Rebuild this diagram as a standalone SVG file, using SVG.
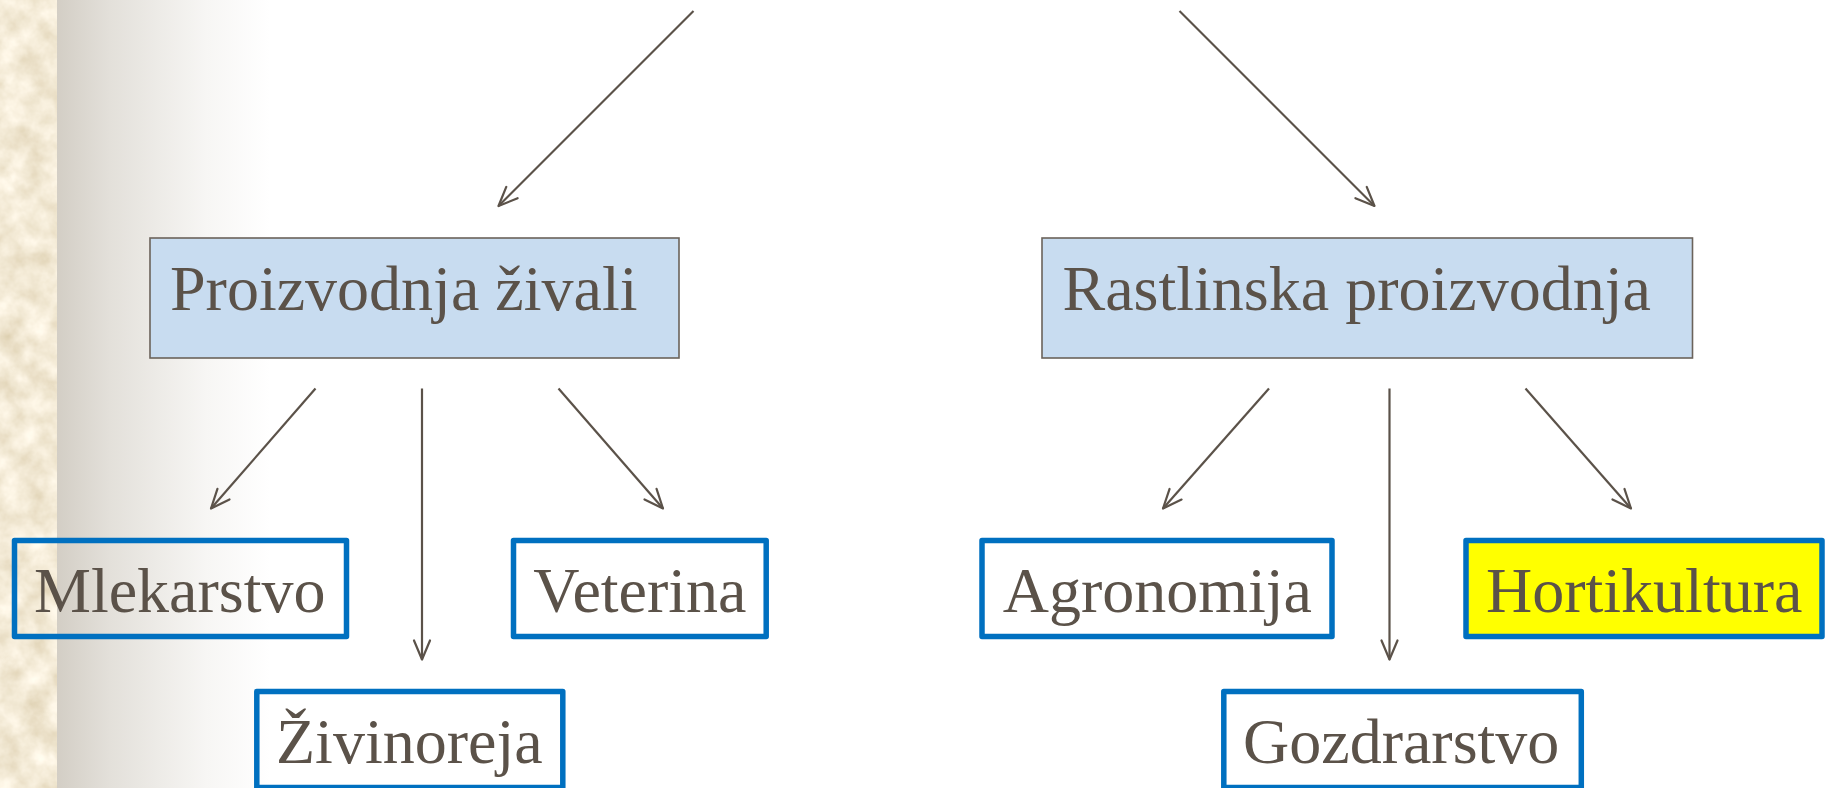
<svg xmlns="http://www.w3.org/2000/svg" width="1825" height="788" viewBox="0 0 1825 788">
  <defs>
    <linearGradient id="shade" x1="0" y1="0" x2="1" y2="0">
      <stop offset="0" stop-color="#d3cec5"/>
      <stop offset="0.25" stop-color="#e3e0da"/>
      <stop offset="0.7" stop-color="#f7f6f4"/>
      <stop offset="1" stop-color="#ffffff"/>
    </linearGradient>
    <filter id="paper" x="0" y="0" width="100%" height="100%">
      <feTurbulence type="fractalNoise" baseFrequency="0.04" numOctaves="4" seed="7" result="n"/>
      <feColorMatrix in="n" type="matrix" values="0.4 0 0 0 0.7  0.45 0 0 0 0.6  0.55 0 0 0 0.4  0 0 0 0 1" result="c"/>
      <feComposite in="c" in2="SourceGraphic" operator="in"/>
    </filter>
    <marker id="arr" markerUnits="userSpaceOnUse" markerWidth="40" markerHeight="40" refX="0" refY="0" orient="auto" viewBox="-20 -20 40 40" overflow="visible">
      <path d="M-19,-8 L0,0 L-19,8" fill="none" stroke="#5b5249" stroke-width="2.2" stroke-linecap="round" stroke-linejoin="round"/>
    </marker>
  </defs>
  <style>
    .lbl { font-family: "Liberation Serif", "Times New Roman", serif; font-size: 64px; fill: #5b5249; }
    .top { fill: #c8dcf0; stroke: #6b635b; stroke-width: 1.6; }
    .leaf { fill: none; stroke: #0070c0; stroke-width: 5.5; stroke-linejoin: round; }
    .hl { fill: #ffff00; }
    .con { stroke: #5b5249; stroke-width: 2.2; fill: none; marker-end: url(#arr); }
  </style>

  <!-- background -->
  <rect x="0" y="0" width="1825" height="788" fill="#ffffff"/>
  <rect x="57" y="0" width="213" height="788" fill="url(#shade)"/>
  <rect x="0" y="0" width="57" height="788" fill="#ecdab2"/>
  <rect x="0" y="0" width="57" height="788" fill="#e6d3a8" filter="url(#paper)"/>

  <!-- connectors -->
  <g id="connectors">
    <line class="con" x1="693.5" y1="11" x2="498.5" y2="206"/>
    <line class="con" x1="1179.5" y1="11" x2="1374.5" y2="206"/>
    <line class="con" x1="315.5" y1="388.5" x2="211" y2="508.5"/>
    <line class="con" x1="422" y1="388.5" x2="422" y2="659.5"/>
    <line class="con" x1="558.5" y1="388.5" x2="663" y2="508.5"/>
    <line class="con" x1="1269" y1="388.5" x2="1163" y2="508.5"/>
    <line class="con" x1="1389.5" y1="388.5" x2="1389.5" y2="659.5"/>
    <line class="con" x1="1525.5" y1="388.5" x2="1631" y2="508.5"/>
  </g>

  <g id="node-proizvodnja-zivali">
    <rect class="top" x="150" y="238" width="529" height="120"/>
    <text class="lbl" x="170" y="310">Proizvodnja živali</text>
  </g>
  <g id="node-rastlinska-proizvodnja">
    <rect class="top" x="1042" y="238" width="650.5" height="120"/>
    <text class="lbl" x="1062.5" y="310">Rastlinska proizvodnja</text>
  </g>

  <g id="node-mlekarstvo">
    <rect class="leaf" x="14.5" y="540.5" width="332" height="96"/>
    <text class="lbl" x="34" y="611.7">Mlekarstvo</text>
  </g>
  <g id="node-veterina">
    <rect class="leaf" x="513.5" y="540.5" width="252.7" height="96"/>
    <text class="lbl" x="533.3" y="611.7">Veterina</text>
  </g>
  <g id="node-zivinoreja">
    <rect class="leaf" x="256.8" y="691.5" width="306" height="96"/>
    <text class="lbl" x="276" y="763.3">Živinoreja</text>
  </g>
  <g id="node-agronomija">
    <rect class="leaf" x="982" y="540.5" width="350" height="96"/>
    <text class="lbl" x="1002.7" y="611.7">Agronomija</text>
  </g>
  <g id="node-hortikultura">
    <rect class="leaf hl" x="1466" y="540.5" width="356" height="96"/>
    <text class="lbl" x="1486" y="611.7">Hortikultura</text>
  </g>
  <g id="node-gozdrarstvo">
    <rect class="leaf" x="1223.8" y="691.5" width="357.5" height="96"/>
    <text class="lbl" x="1243" y="762.5">Gozdrarstvo</text>
  </g>
</svg>
